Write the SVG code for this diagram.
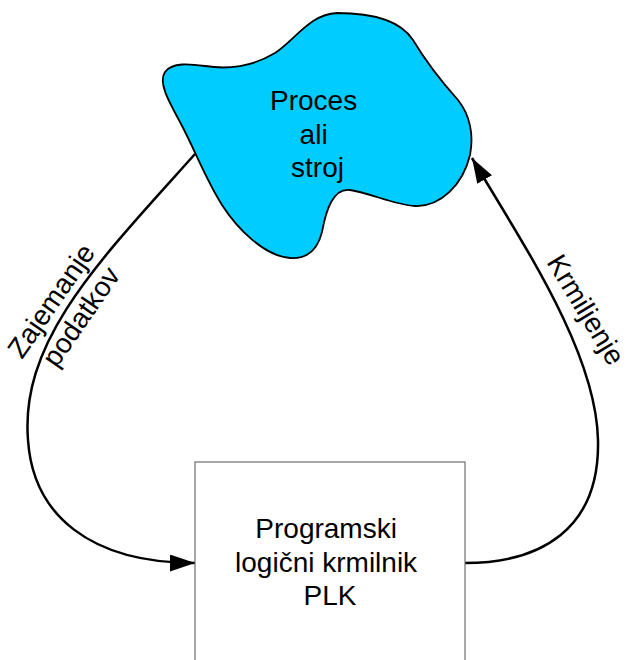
<svg xmlns="http://www.w3.org/2000/svg" width="628" height="660" viewBox="0 0 628 660">
  <style>
    .lbl { font-family: "Liberation Sans", Arial, sans-serif; font-size: 28px; fill: #000; text-anchor: middle; }
    .wire { fill: none; stroke: #000; stroke-width: 2.5; }
  </style>
  <defs>
    <marker id="arrow" markerUnits="userSpaceOnUse" markerWidth="26" markerHeight="18" refX="25" refY="8.5" orient="auto">
      <path d="M0,0 L25,8.5 L0,17 Z" fill="#000"/>
    </marker>
  </defs>

  <rect width="628" height="660" fill="#fff"/>

  <!-- connectors -->
  <g id="connectors">
    <path class="wire" d="M195,154 C100,260 20,340 28,440 C33,515 90,563 195,563" marker-end="url(#arrow)"/>
    <path class="wire" d="M465,563 C540,563 600,530 598,440 C596,350 520,240 472,158" marker-end="url(#arrow)"/>
    <text class="lbl" transform="translate(67,307) rotate(-55.4)">
      <tspan x="0" y="-7">Zajemanje</tspan>
      <tspan x="0" y="26.5">podatkov</tspan>
    </text>
    <text class="lbl" transform="translate(585.5,310) rotate(58.8)" x="0" y="9">Krmiljenje</text>
  </g>

  <!-- process / machine -->
  <g id="process">
    <path d="M337,13 C370,13 400,20 413,40 C425,60 440,80 458,100 C470,115 474,135 470,155 C463,185 440,207 415,206 C395,205 370,193 350,190 C333,188 326,210 322,232 C317,252 305,259 290,258 C265,256 238,230 222,205 C205,178 195,150 180,122 C168,100 158,82 165,72 C172,62 190,64 205,66 C230,70 255,65 275,53 C295,40 310,14 337,13 Z" fill="#00ccff" stroke="#000" stroke-width="1.8"/>
    <text class="lbl">
      <tspan x="317.5" y="110">Proces</tspan>
      <tspan x="317.5" y="143.5">ali</tspan>
      <tspan x="317.5" y="177">stroj</tspan>
    </text>
  </g>

  <!-- PLC -->
  <g id="plk">
    <rect x="195" y="462" width="270" height="210" fill="#fff" stroke="#6e6e6e" stroke-width="1.2"/>
    <text class="lbl">
      <tspan x="330" y="538">Programski</tspan>
      <tspan x="330" y="571.5">logični krmilnik</tspan>
      <tspan x="330" y="605">PLK</tspan>
    </text>
  </g>
</svg>
